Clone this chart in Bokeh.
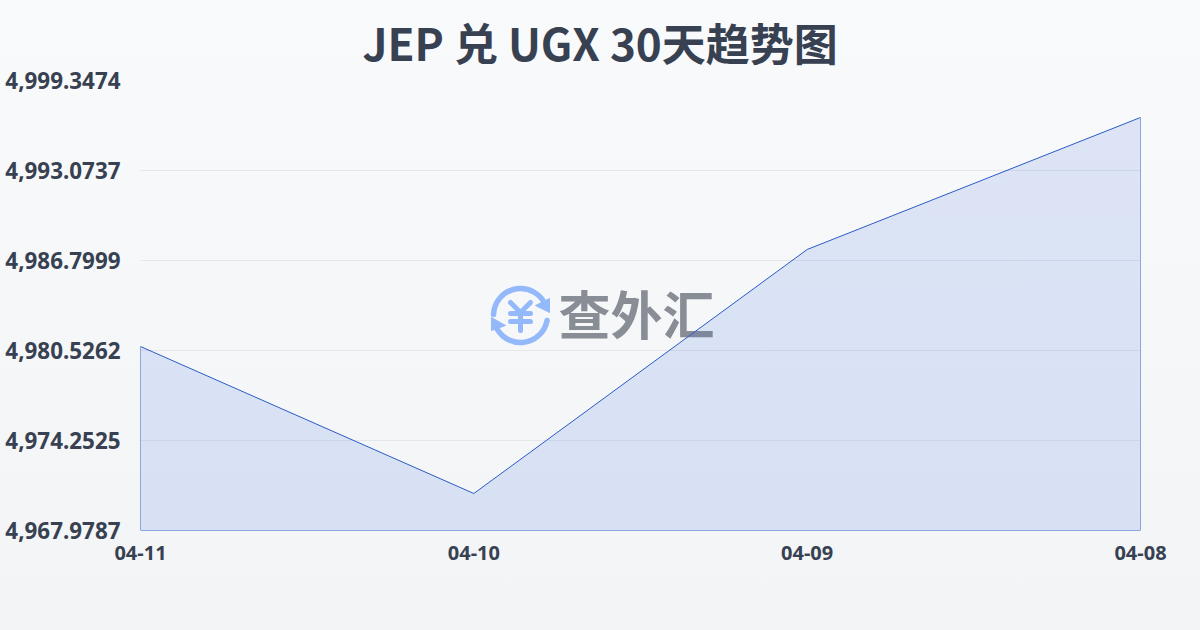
from bokeh.plotting import figure
from bokeh.embed import file_html
from bokeh.resources import INLINE
from bokeh.models import Range1d, FixedTicker, InlineStyleSheet
from bokeh.core.properties import value

title = "JEP 兑 UGX 30天趋势图"
dates = ["04-11", "04-10", "04-09", "04-08"]
rates = [4980.805, 4970.558, 4987.567, 4996.770]
y_ticks = [4967.9787, 4974.2525, 4980.5262, 4986.7999, 4993.0737, 4999.3474]
y_labels = ["4,967.9787", "4,974.2525", "4,980.5262", "4,986.7999", "4,993.0737", "4,999.3474"]
xs = list(range(len(dates)))

INK = "#374151"
LOGO = "#94b9fa"

p = figure(width=1200, height=630, output_backend="svg", toolbar_location=None,
           x_range=Range1d(0, len(dates) - 1), y_range=Range1d(y_ticks[0], y_ticks[-1]),
           min_border_left=140, min_border_right=60, min_border_top=80, min_border_bottom=100,
           background_fill_alpha=0, border_fill_alpha=0, outline_line_alpha=0)
p.stylesheets = [InlineStyleSheet(css=":host{position:fixed;left:0;top:0;background:linear-gradient(180deg,#f9fafc,#f3f4f6);}")]
p.extra_x_ranges["px"] = Range1d(140, 1140)
p.extra_y_ranges["px"] = Range1d(530, 80)

# title
p.title.text = title
p.title.align = "left"
p.title.offset = 222
p.title.standoff = 14
p.title.vertical_align = "bottom"
p.title.text_font = "Noto Sans CJK SC"
p.title.text_font_style = "bold"
p.title.text_font_size = "44px"
p.title.text_color = INK

# axes
p.xaxis.ticker = FixedTicker(ticks=xs)
p.xaxis.major_label_overrides = {i: d for i, d in zip(xs, dates)}
p.yaxis.ticker = FixedTicker(ticks=y_ticks)
p.yaxis.major_label_overrides = {t: l for t, l in zip(y_ticks, y_labels)}
for ax in (p.xaxis[0], p.yaxis[0]):
    ax.axis_line_alpha = 0
    ax.major_tick_line_alpha = 0
    ax.minor_tick_line_alpha = 0
    ax.major_tick_in = 0
    ax.major_tick_out = 0
    ax.minor_tick_in = 0
    ax.minor_tick_out = 0
    ax.major_label_text_color = INK
    ax.major_label_text_font = "Noto Sans"
    ax.major_label_text_font_style = "bold"
p.xaxis.major_label_text_font_size = "20px"
p.xaxis.major_label_standoff = 15
p.yaxis.major_label_text_font_size = "22.4px"
p.yaxis.major_label_standoff = 20
p.xgrid.grid_line_alpha = 0
p.ygrid.grid_line_color = "#e5e7eb"
p.ygrid.grid_line_width = 1

# watermark logo
lk = dict(x_range_name="px", y_range_name="px")
p.arc(x=[520, 520], y=[315, 315], radius=27, radius_units="screen",
      start_angle=[0.35, 3.5], end_angle=[3.1, 6.1], line_color=LOGO, line_width=5.5,
      line_cap="round", direction="anticlock", **lk)
p.patches(xs=[[549, 549, 535], [491, 505, 491]], ys=[[298, 312, 305], [317, 325, 330]],
          fill_color=LOGO, line_color=LOGO, **lk)
p.segment(x0=[510, 530, 510, 510, 520], y0=[302, 302, 313, 321, 312],
          x1=[520, 520, 530, 530, 520], y1=[312, 312, 313, 321, 330],
          line_color=LOGO, line_width=5, line_cap="round", **lk)
p.text(x=[636], y=[312], text=["查外汇"], text_font=value("Noto Sans CJK SC"),
       text_font_style="bold", text_font_size="52px", text_color="#898d95",
       text_align="center", text_baseline="middle", **lk)

# series
p.patch(x=[xs[0]] + xs + [xs[-1]], y=[y_ticks[0]] + rates + [y_ticks[0]],
        fill_color="#3a6ee0", fill_alpha=0.15, line_color="#2a5cc6", line_width=1)

open("out.html", "w").write(file_html(p, INLINE))
